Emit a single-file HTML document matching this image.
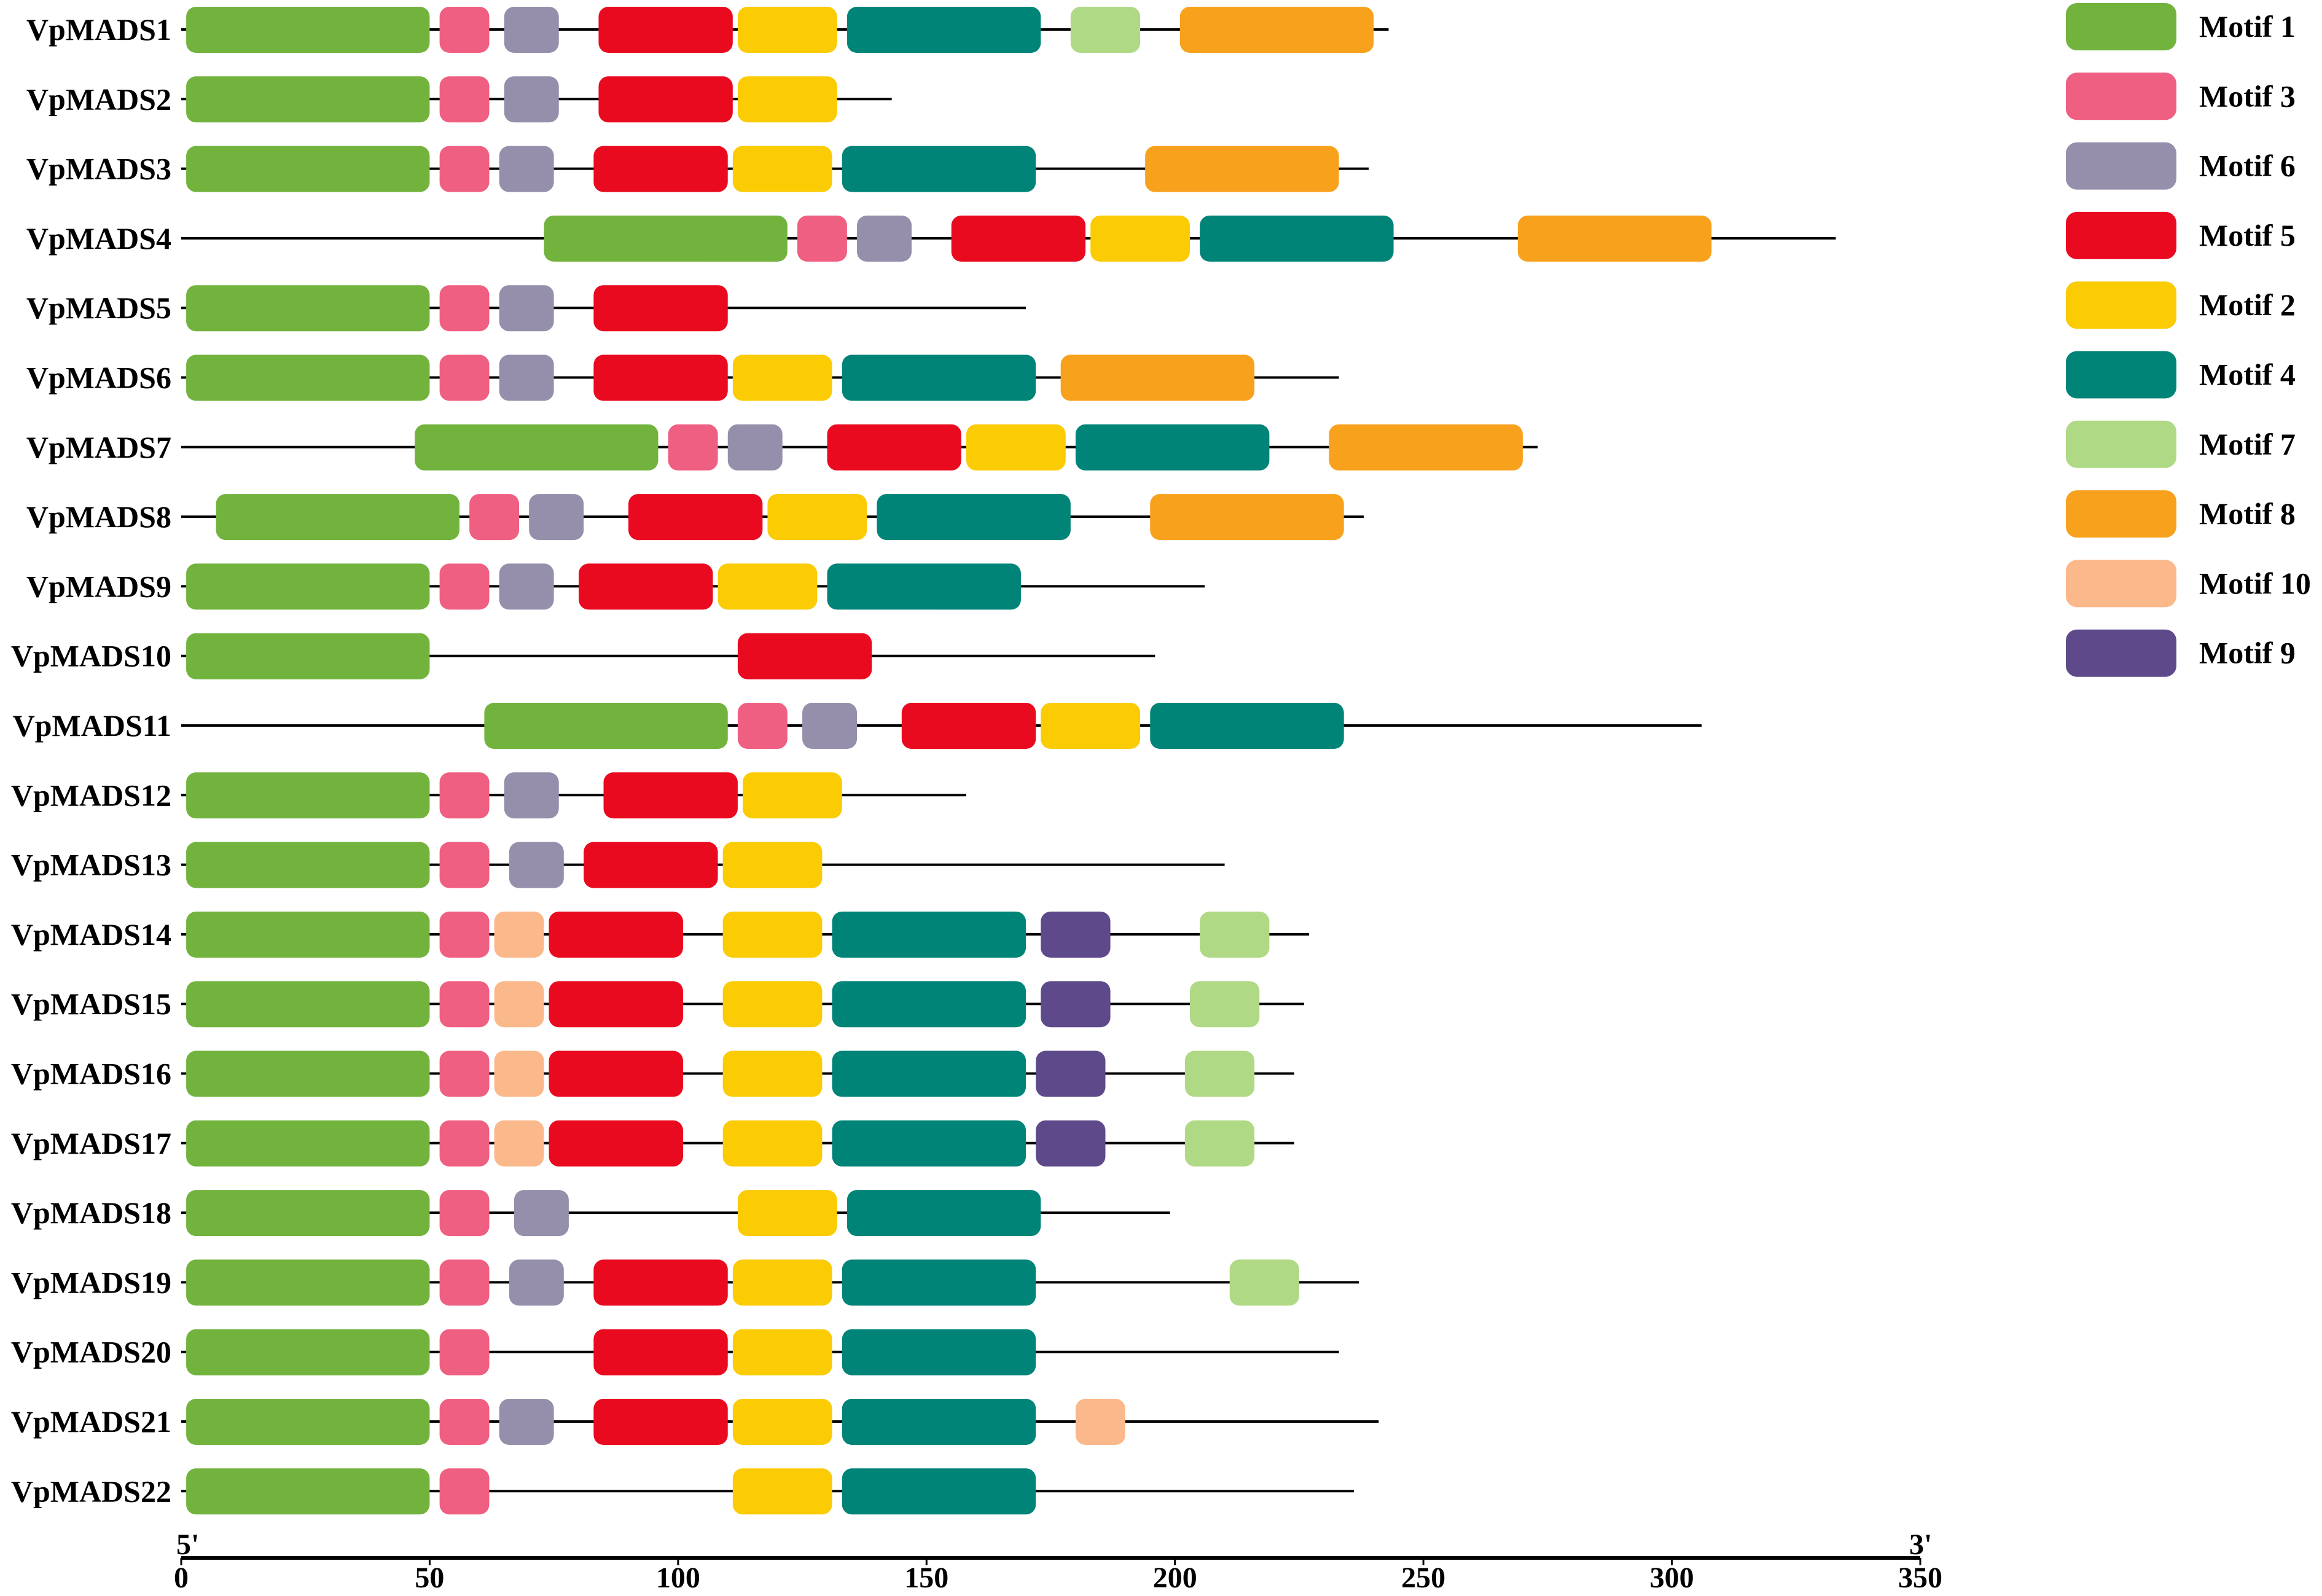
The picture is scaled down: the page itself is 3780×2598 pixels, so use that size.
<!DOCTYPE html>
<html><head><meta charset="utf-8"><style>html,body{margin:0;padding:0;background:#fff}svg{display:block}text{font-family:"Liberation Serif",serif;font-weight:bold}</style></head>
<body>
<svg id="chart" width="3780" height="2598" viewBox="0 0 3780 2598" xmlns="http://www.w3.org/2000/svg"></svg>
<script>
const genes = ["VpMADS1","VpMADS2","VpMADS3","VpMADS4","VpMADS5","VpMADS6","VpMADS7","VpMADS8","VpMADS9","VpMADS10","VpMADS11","VpMADS12","VpMADS13","VpMADS14","VpMADS15","VpMADS16","VpMADS17","VpMADS18","VpMADS19","VpMADS20","VpMADS21","VpMADS22"];
const lengths = [243,143,239,333,170,233,273,238,206,196,306,158,210,227,226,224,224,199,237,233,241,236];
const motifs = [
 [[1,1,50],[3,52,62],[6,65,76],[5,84,111],[2,112,132],[4,134,173],[7,179,193],[8,201,240]],
 [[1,1,50],[3,52,62],[6,65,76],[5,84,111],[2,112,132]],
 [[1,1,50],[3,52,62],[6,64,75],[5,83,110],[2,111,131],[4,133,172],[8,194,233]],
 [[1,73,122],[3,124,134],[6,136,147],[5,155,182],[2,183,203],[4,205,244],[8,269,308]],
 [[1,1,50],[3,52,62],[6,64,75],[5,83,110]],
 [[1,1,50],[3,52,62],[6,64,75],[5,83,110],[2,111,131],[4,133,172],[8,177,216]],
 [[1,47,96],[3,98,108],[6,110,121],[5,130,157],[2,158,178],[4,180,219],[8,231,270]],
 [[1,7,56],[3,58,68],[6,70,81],[5,90,117],[2,118,138],[4,140,179],[8,195,234]],
 [[1,1,50],[3,52,62],[6,64,75],[5,80,107],[2,108,128],[4,130,169]],
 [[1,1,50],[5,112,139]],
 [[1,61,110],[3,112,122],[6,125,136],[5,145,172],[2,173,193],[4,195,234]],
 [[1,1,50],[3,52,62],[6,65,76],[5,85,112],[2,113,133]],
 [[1,1,50],[3,52,62],[6,66,77],[5,81,108],[2,109,129]],
 [[1,1,50],[3,52,62],[10,63,73],[5,74,101],[2,109,129],[4,131,170],[9,173,187],[7,205,219]],
 [[1,1,50],[3,52,62],[10,63,73],[5,74,101],[2,109,129],[4,131,170],[9,173,187],[7,203,217]],
 [[1,1,50],[3,52,62],[10,63,73],[5,74,101],[2,109,129],[4,131,170],[9,172,186],[7,202,216]],
 [[1,1,50],[3,52,62],[10,63,73],[5,74,101],[2,109,129],[4,131,170],[9,172,186],[7,202,216]],
 [[1,1,50],[3,52,62],[6,67,78],[2,112,132],[4,134,173]],
 [[1,1,50],[3,52,62],[6,66,77],[5,83,110],[2,111,131],[4,133,172],[7,211,225]],
 [[1,1,50],[3,52,62],[5,83,110],[2,111,131],[4,133,172]],
 [[1,1,50],[3,52,62],[6,64,75],[5,83,110],[2,111,131],[4,133,172],[10,180,190]],
 [[1,1,50],[3,52,62],[2,111,131],[4,133,172]]
];
const legendOrder = [1,3,6,5,2,4,7,8,10,9];
const tickValues = [0,50,100,150,200,250,300,350];
const colors = {1:"#72b33e",2:"#fbcb04",3:"#ef5f82",4:"#008478",5:"#ea0a1f",6:"#958fab",7:"#b0d985",8:"#f8a11c",9:"#5e4a8a",10:"#fbb88a"};

const svg = document.getElementById('chart');
const NS = "http://www.w3.org/2000/svg";
const x = v => 295 + v * (3126 - 295) / 350;
const y = i => 48 + i * 113.3;
function mk(tag, attrs){const e=document.createElementNS(NS,tag);for(const k in attrs)e.setAttribute(k,attrs[k]);svg.appendChild(e);return e;}

genes.forEach((g,i)=>{
  const cy=y(i);
  const t=mk('text',{x:279,y:cy+17,'text-anchor':'end','font-size':50});
  t.textContent=g;
  
  
  const l=mk('line',{x1:x(0),x2:x(lengths[i]),y1:cy,y2:cy,stroke:'#000','stroke-width':4});
  
  
  motifs[i].forEach(m=>{
    const r=mk('rect',{x:x(m[1]),y:cy-37,width:x(m[2])-x(m[1]),height:75,rx:16,ry:16,fill:colors[m[0]]});
    
    
  });
});

const ay=2536;
const ax=mk('line',{x1:x(0),x2:x(350),y1:ay,y2:ay,stroke:'#000','stroke-width':6});


tickValues.forEach(v=>{
  const tk=mk('line',{x1:x(v),x2:x(v),y1:ay,y2:ay+12,stroke:'#000','stroke-width':3});
  
  
  const t=mk('text',{x:x(v),y:ay+48,'text-anchor':'middle','font-size':48});
  t.textContent=v;
  
  
});
const p5=mk('text',{x:x(0)-8,y:ay-6,'text-anchor':'start','font-size':48});
p5.textContent="5'";


const p3=mk('text',{x:x(350)-18,y:ay-6,'text-anchor':'start','font-size':48});
p3.textContent="3'";



legendOrder.forEach((m,i)=>{
  const cy=43+i*113.3;
  const r=mk('rect',{x:3363,y:cy-38,width:180,height:77,rx:18,ry:18,fill:colors[m]});
  
  
  const t=mk('text',{x:3580,y:cy+17,'font-size':50});
  t.textContent='Motif '+m;
  
  
});
</script>
</body></html>
